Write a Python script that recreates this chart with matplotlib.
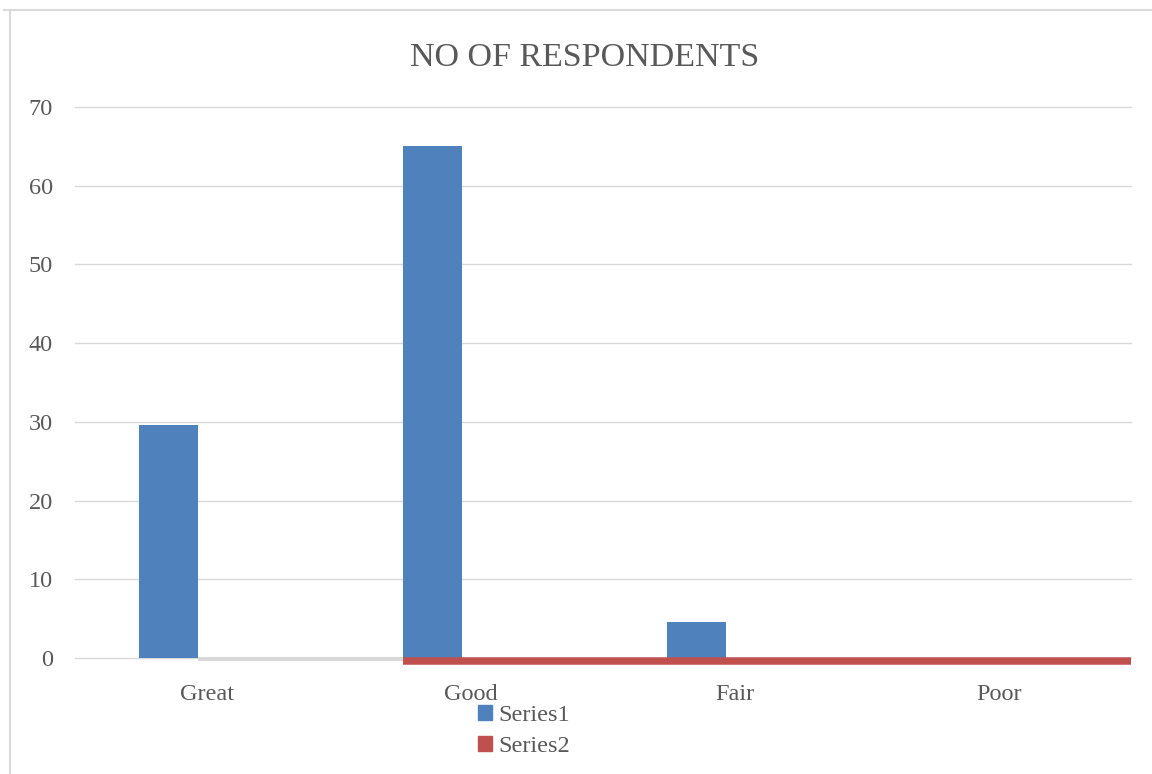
import numpy as np
import matplotlib
matplotlib.use('Agg')
import matplotlib.pyplot as plt
import matplotlib.transforms as mtransforms
from matplotlib.lines import Line2D
from matplotlib.patches import Patch

categories = ['Great', 'Good', 'Fair', 'Poor']
series1 = [29.6, 65, 4.6, 0]
series2 = [0, 0, 0, 0]
yticks = [0, 10, 20, 30, 40, 50, 60, 70]

blue = '#4f81bd'
red = '#c0504d'
grid = '#d9d9d9'
txt = '#595959'

plt.rcParams['font.family'] = ['Liberation Serif', 'DejaVu Serif']

fig = plt.figure(figsize=(11.52, 7.74), dpi=100)
ax = fig.add_axes([75 / 1152, 1 - 658 / 774, 1056 / 1152, 551 / 774])

x = np.arange(len(categories))
w = 0.225
off = -0.146
ax.bar(x + off, series1, width=w, color=blue, zorder=3)

ax.set_xlim(-0.5, 3.5)
ax.set_ylim(0, 70)
ax.set_yticks(yticks)
ax.set_xticks(x)
ax.set_xticklabels(categories)
ax.yaxis.grid(True, color=grid, linewidth=1.0, zorder=0)
for gl in ax.get_ygridlines():
    gl.set_clip_on(False)
ax.tick_params(length=0, labelsize=17.5, colors=txt)
ax.tick_params(axis='y', pad=16)
ax.tick_params(axis='x', pad=19)
for s in ax.spines.values():
    s.set_visible(False)

# series2 drawn as a flat line at its value, just under the axis
down = mtransforms.ScaledTranslation(0, -2.5 / 100, fig.dpi_scale_trans)
gx = [x[0] + off + w / 2, x[1] + off - w / 2]
ax.plot(gx, series2[:2], color=grid, lw=2.9, solid_capstyle='butt',
        transform=ax.transData + mtransforms.ScaledTranslation(0, -1 / 100, fig.dpi_scale_trans),
        clip_on=False, zorder=2)
rx = [x[1] + off - w / 2] + list(x[2:]) + [3.5]
ry = [series2[1]] + series2[2:] + [series2[-1]]
ax.plot(rx, ry, color=red, lw=5.4, solid_capstyle='butt',
        transform=ax.transData + down, clip_on=False, zorder=4)

fig.text(585 / 1152, 1 - 66 / 774, 'NO OF RESPONDENTS', ha='center', va='baseline',
         fontsize=24.5, color=txt)

handles = [Patch(color=blue), Patch(color=red)]
fig.legend(handles, ['Series1', 'Series2'], loc='upper left',
           bbox_to_anchor=(466 / 1152, 1 - 693 / 774), frameon=False,
           fontsize=17.5, labelcolor=txt, handlelength=0.55, handleheight=0.55,
           handletextpad=0.3, labelspacing=0.4, borderpad=0)

# chart area border
fig.add_artist(Line2D([10 / 1152, 10 / 1152], [0, 1 - 10 / 774], color=grid, lw=1.5,
                      transform=fig.transFigure))
fig.add_artist(Line2D([4 / 1152, 1], [1 - 10 / 774, 1 - 10 / 774], color=grid, lw=1.5,
                      transform=fig.transFigure))

fig.savefig('out.png', dpi=100)
